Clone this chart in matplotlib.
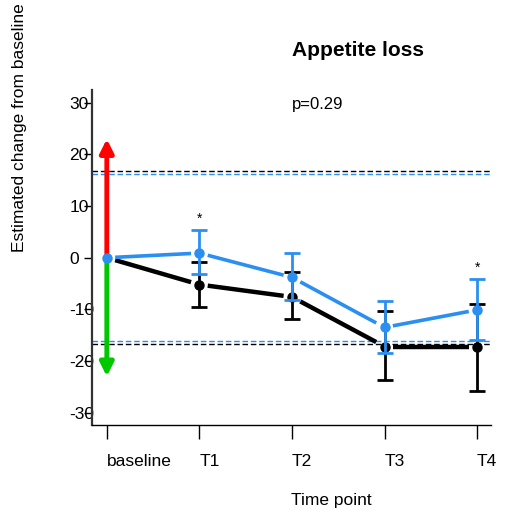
import numpy as np
import matplotlib
matplotlib.use("Agg")
import matplotlib.pyplot as plt

plt.rcParams['font.family'] = ['Liberation Sans', 'DejaVu Sans']
plt.rcParams['axes.unicode_minus'] = False

timepoints = ["baseline", "T1", "T2", "T3", "T4"]

# black group: estimate and error bar ends
black_est = [0.0, -5.2, -7.6, -17.2, -17.2]
black_hi = [0.0, -0.9, -2.8, -10.4, -8.9]
black_lo = [0.0, -9.6, -11.9, -23.7, -25.8]

# blue group
blue_est = [0.0, 0.9, -3.8, -13.5, -10.1]
blue_hi = [0.0, 5.3, 1.0, -8.3, -4.1]
blue_lo = [0.0, -3.2, -8.1, -18.5, -16.0]

# clinically relevant thresholds
black_thr = 16.8
blue_thr = 16.2

arrow_len = 23
stars = [1, 4]
p_text = "p=0.29"

BLUE = "#2a8ff0"
x = np.arange(len(timepoints))

fig = plt.figure(figsize=(5.10, 5.17), dpi=100)
ax = fig.add_axes([0.1804, 0.178, 0.7823, 0.648])


def gapped_line(xs, ys, color, lw, gap=0.09):
    for i in range(len(xs) - 1):
        x0, x1 = xs[i], xs[i + 1]
        y0, y1 = ys[i], ys[i + 1]
        dx, dy = x1 - x0, y1 - y0
        ax.plot([x0 + gap * dx, x1 - gap * dx], [y0 + gap * dy, y1 - gap * dy],
                color=color, lw=lw, solid_capstyle='butt', zorder=3)


# threshold lines
for thr, col in [(black_thr, 'black'), (blue_thr, BLUE)]:
    ax.axhline(thr, color=col, ls=(0, (4, 2)), lw=1.0, zorder=1)
    ax.axhline(-thr, color=col, ls=(0, (4, 2)), lw=1.0, zorder=1)

# direction arrows at baseline
ax.annotate("", xy=(0, arrow_len), xytext=(0, 0),
            arrowprops=dict(arrowstyle="-|>,head_length=0.8,head_width=0.4",
                            color="#ff0000", lw=3.5, shrinkA=0, shrinkB=0), zorder=2)
ax.annotate("", xy=(0, -arrow_len), xytext=(0, 0),
            arrowprops=dict(arrowstyle="-|>,head_length=0.8,head_width=0.4",
                            color="#00c800", lw=3.5, shrinkA=0, shrinkB=0), zorder=2)

gapped_line(x, black_est, 'black', 3.2)
gapped_line(x, blue_est, BLUE, 2.6)

be = np.array(black_est)
ax.errorbar(x[1:], be[1:], yerr=[be[1:] - np.array(black_lo[1:]), np.array(black_hi[1:]) - be[1:]],
            fmt='o', color='black', ms=6.5, elinewidth=2, capsize=6, capthick=2, zorder=4)
ue = np.array(blue_est)
ax.errorbar(x[1:], ue[1:], yerr=[ue[1:] - np.array(blue_lo[1:]), np.array(blue_hi[1:]) - ue[1:]],
            fmt='o', color=BLUE, ms=6.5, elinewidth=2, capsize=6, capthick=2, zorder=5)
ax.plot(0, 0, 'o', color=BLUE, ms=6.5, zorder=6)

for s in stars:
    ax.text(x[s], blue_hi[s] + 0.8, "*", ha='center', va='bottom', fontsize=10)

ax.text(2.28, 29.6, p_text, ha='center', va='center', fontsize=12)
fig.text(0.702, 0.903, "Appetite loss", ha='center', va='center',
         fontsize=15, fontweight='bold')

ax.set_xlim(-0.16, 4.15)
ax.set_ylim(-32.4, 32.5)
ax.set_yticks([-30, -20, -10, 0, 10, 20, 30])
ax.set_xticks(x)
ax.set_xticklabels(timepoints)
ax.tick_params(axis='y', direction='out', length=6, pad=10.4, labelsize=12.5, width=1)
ax.tick_params(axis='x', direction='out', length=10, pad=11, labelsize=12.5, width=1)
for lab in ax.get_yticklabels():
    lab.set_horizontalalignment('left')
    lab.set_zorder(0)
for lab in ax.get_xticklabels():
    lab.set_horizontalalignment('left')

for sp in ['top', 'right']:
    ax.spines[sp].set_visible(False)
ax.spines['left'].set_linewidth(1.6)
ax.spines['left'].set_color('#333333')
ax.spines['bottom'].set_linewidth(1.0)

fig.text(0.039, 0.754, "Estimated change from baseline", rotation=90,
         ha='center', va='center', fontsize=12.5)
fig.text(0.649, 0.031, "Time point", ha='center', va='center', fontsize=12.5)

fig.savefig("out.png", dpi=100)
